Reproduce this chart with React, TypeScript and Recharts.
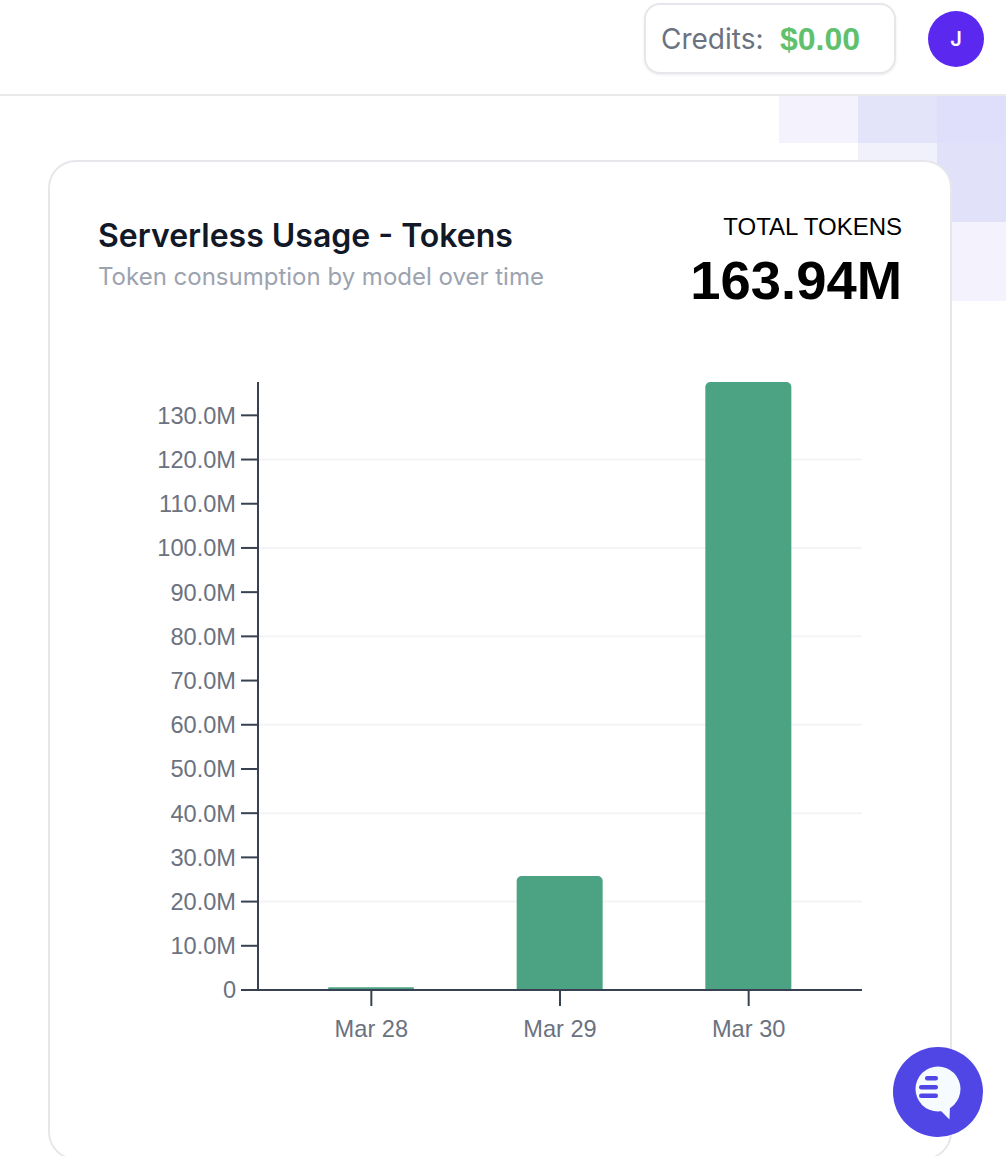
import { Bar, BarChart, CartesianGrid, XAxis, YAxis } from "recharts";

const days = ["Mar 28", "Mar 29", "Mar 30"];
const tokens = [600000, 25800000, 137540000];
const yTicks = [
  0, 10000000, 20000000, 30000000, 40000000, 50000000, 60000000, 70000000, 80000000, 90000000, 100000000, 110000000,
  120000000, 130000000,
];
const gridValues = [20000000, 40000000, 60000000, 80000000, 100000000, 120000000];

const chartData = days.map((day, i) => ({ day, tokens: tokens[i] }));

const axisColor = "#374151";
const tickStyle = { fill: "#6b7280", fontSize: 23.6, fontFamily: "Liberation Sans" };

function formatTokens(value: number) {
  return value === 0 ? "0" : `${(value / 1000000).toFixed(1)}M`;
}

function box(left: number, top: number, width: number, height: number, background: string) {
  return <div style={{ position: "absolute", left, top, width, height, background }} />;
}

function ChatIcon() {
  return (
    <svg width={90} height={90} viewBox="0 0 90 90" style={{ position: "absolute", left: 893, top: 1047 }}>
      <circle cx={45} cy={45} r={45} fill="#4f46e5" />
      <circle cx={45} cy={42} r={22.5} fill="#f5fbff" />
      <path d="M46 62 L56.5 72.5 L57 58 Z" fill="#f5fbff" />
      <rect x={32} y={29} width={13} height={4.5} rx={2.2} fill="#4f46e5" />
      <rect x={26} y={38} width={19} height={4.5} rx={2.2} fill="#4f46e5" />
      <rect x={26} y={46.5} width={19} height={4.5} rx={2.2} fill="#4f46e5" />
    </svg>
  );
}

export default function App() {
  return (
    <div style={{ position: "absolute", left: 0, top: 0, width: 1006, height: 1156, overflow: "hidden", background: "#fff", fontFamily: "Inter" }}>
      {box(779, 96, 79, 47, "#f3f2fd")}
      {box(858, 96, 79, 47, "#e3e3fa")}
      {box(937, 96, 69, 47, "#dfdffb")}
      {box(858, 143, 79, 79, "#f1f1fc")}
      {box(937, 143, 69, 79, "#e1e1fa")}
      {box(937, 222, 69, 79, "#f3f2fd")}

      <div style={{ position: "absolute", left: 0, top: 94, width: 1006, height: 2, background: "#e9e9ec" }} />

      <div
        style={{
          position: "absolute",
          left: 644,
          top: 3,
          width: 252,
          height: 71,
          boxSizing: "border-box",
          border: "2px solid #e5e7eb",
          borderRadius: 16,
          boxShadow: "0 1px 3px rgba(0,0,0,0.08)",
          background: "#fff",
        }}
      />
      <div style={{ position: "absolute", left: 661, top: 21, fontSize: 28, lineHeight: "36px", color: "#6b7280" }}>Credits:</div>
      <div
        style={{
          position: "absolute",
          left: 780,
          top: 21,
          fontSize: 32,
          lineHeight: "36px",
          fontWeight: 700,
          fontFamily: "Liberation Sans",
          color: "#5fc16e",
        }}
      >
        $0.00
      </div>
      <div
        style={{
          position: "absolute",
          left: 928,
          top: 11,
          width: 56,
          height: 56,
          borderRadius: "50%",
          background: "#5b28f0",
          color: "#fff",
          fontSize: 20,
          fontWeight: 600,
          lineHeight: "56px",
          textAlign: "center",
        }}
      >
        J
      </div>

      <div
        style={{
          position: "absolute",
          left: 48,
          top: 160,
          width: 904,
          height: 1000,
          boxSizing: "border-box",
          border: "2px solid #e5e7eb",
          borderRadius: 28,
          background: "#fff",
        }}
      />
      <div style={{ position: "absolute", left: 98, top: 216, fontSize: 32, lineHeight: "40px", fontWeight: 600, color: "#111827" }}>
        Serverless Usage - Tokens
      </div>
      <div style={{ position: "absolute", left: 98, top: 261, fontSize: 24, lineHeight: "32px", color: "#9ca3af" }}>
        Token consumption by model over time
      </div>
      <div
        style={{
          position: "absolute",
          right: 104,
          top: 212,
          fontSize: 24,
          lineHeight: "30px",
          fontFamily: "Liberation Sans",
          color: "#000",
        }}
      >
        TOTAL TOKENS
      </div>
      <div
        style={{
          position: "absolute",
          right: 104,
          top: 250,
          fontSize: 54.4,
          lineHeight: "62px",
          fontWeight: 700,
          fontFamily: "Liberation Sans",
          color: "#000",
        }}
      >
        163.94M
      </div>

      <div style={{ position: "absolute", left: 0, top: 360 }}>
        <BarChart width={900} height={700} data={chartData} margin={{ top: 22, right: 38, bottom: 0, left: 0 }}>
          <CartesianGrid vertical={false} horizontalValues={gridValues} stroke="#f3f4f6" strokeWidth={2} />
          <XAxis
            dataKey="day"
            height={70}
            padding={{ left: 19, right: 19 }}
            interval={0}
            tick={tickStyle}
            tickSize={16}
            tickMargin={14}
            axisLine={{ stroke: axisColor, strokeWidth: 2 }}
            tickLine={{ stroke: axisColor, strokeWidth: 2 }}
          />
          <YAxis
            width={258}
            domain={[0, "dataMax"]}
            ticks={yTicks}
            interval={0}
            tickFormatter={formatTokens}
            tick={tickStyle}
            tickSize={17}
            tickMargin={5}
            axisLine={{ stroke: axisColor, strokeWidth: 2 }}
            tickLine={{ stroke: axisColor, strokeWidth: 2 }}
          />
          <Bar dataKey="tokens" fill="#4ba383" barSize={86} radius={[5, 5, 0, 0]} isAnimationActive={false} />
        </BarChart>
      </div>

      <ChatIcon />
    </div>
  );
}
